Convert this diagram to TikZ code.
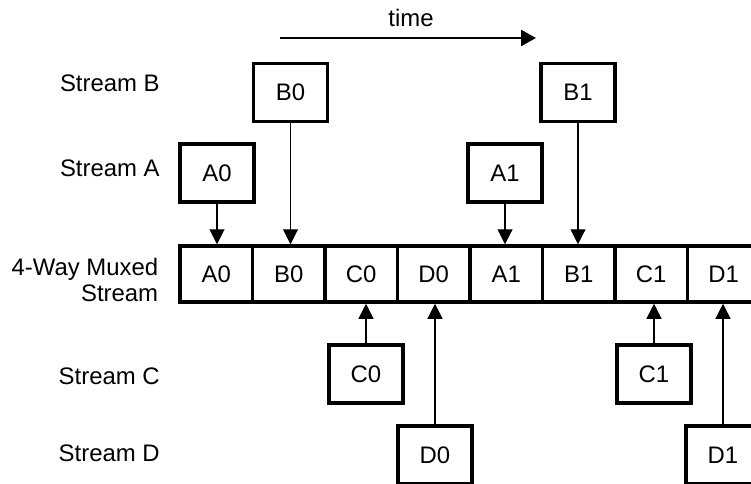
\documentclass[tikz,border=0pt]{standalone}
\usepackage{fontspec}
\setmainfont{Liberation Sans}
\usepackage{tikz}
\usetikzlibrary{arrows.meta}

\begin{document}
\begin{tikzpicture}[
    every node/.style={font=\fontsize{13.6}{14.5}\selectfont},
    packet/.style={rectangle, draw=black, line width=2pt, minimum width=1.48cm, minimum height=1.16cm, inner sep=0pt},
    slot/.style={rectangle, draw=black, line width=2pt, minimum width=1.45cm, minimum height=1.12cm, inner sep=0pt},
    streamlabel/.style={anchor=east, align=right, inner sep=0pt},
    arrow/.style={-{Triangle[length=0.3cm, width=0.3cm]}, line width=0.6pt},
    timearrow/.style={-{Triangle[length=0.3cm, width=0.32cm]}, line width=1.4pt}
]

\useasboundingbox (0,0) rectangle (15.02,-9.66);

% Time axis
\node (time) at (8.22, -0.36) {time};
\coordinate (tstart) at (5.6, -0.76);
\coordinate (tend) at (10.72, -0.76);
\draw[timearrow] (tstart) -- (tend);

% Row labels
\node[streamlabel] (lblB) at (3.2, -1.66) {Stream B};
\node[streamlabel] (lblA) at (3.2, -3.36) {Stream A};
\node[streamlabel] (lblM) at (3.17, -5.6) {4-Way Muxed\\Stream};
\node[streamlabel] (lblC) at (3.2, -7.52) {Stream C};
\node[streamlabel] (lblD) at (3.2, -9.06) {Stream D};

% Muxed stream
\node[slot] (mA0) at (4.325, -5.48) {A0};
\node[slot] (mB0) at (5.775, -5.48) {B0};
\node[slot] (mC0) at (7.225, -5.48) {C0};
\node[slot] (mD0) at (8.675, -5.48) {D0};
\node[slot] (mA1) at (10.125, -5.48) {A1};
\node[slot] (mB1) at (11.575, -5.48) {B1};
\node[slot] (mC1) at (13.025, -5.48) {C1};
\node[slot] (mD1) at (14.475, -5.48) {D1};

% Streams A and B (above)
\node[packet] (sB0) at (5.81, -1.85) {B0};
\node[packet] (sB1) at (11.56, -1.85) {B1};
\node[packet] (sA0) at (4.34, -3.46) {A0};
\node[packet] (sA1) at (10.1, -3.46) {A1};
\draw[arrow] (sA0.south) -- (sA0.south |- mA0.north);
\draw[arrow] (sB0.south) -- (sB0.south |- mB0.north);
\draw[arrow] (sA1.south) -- (sA1.south |- mA1.north);
\draw[arrow] (sB1.south) -- (sB1.south |- mB1.north);

% Streams C and D (below)
\node[packet] (sC0) at (7.32, -7.48) {C0};
\node[packet] (sC1) at (13.08, -7.48) {C1};
\node[packet] (sD0) at (8.7, -9.1) {D0};
\node[packet] (sD1) at (14.46, -9.1) {D1};
\draw[arrow] (sC0.north) -- (sC0.north |- mC0.south);
\draw[arrow] (sD0.north) -- (sD0.north |- mD0.south);
\draw[arrow] (sC1.north) -- (sC1.north |- mC1.south);
\draw[arrow] (sD1.north) -- (sD1.north |- mD1.south);

\end{tikzpicture}
\end{document}
